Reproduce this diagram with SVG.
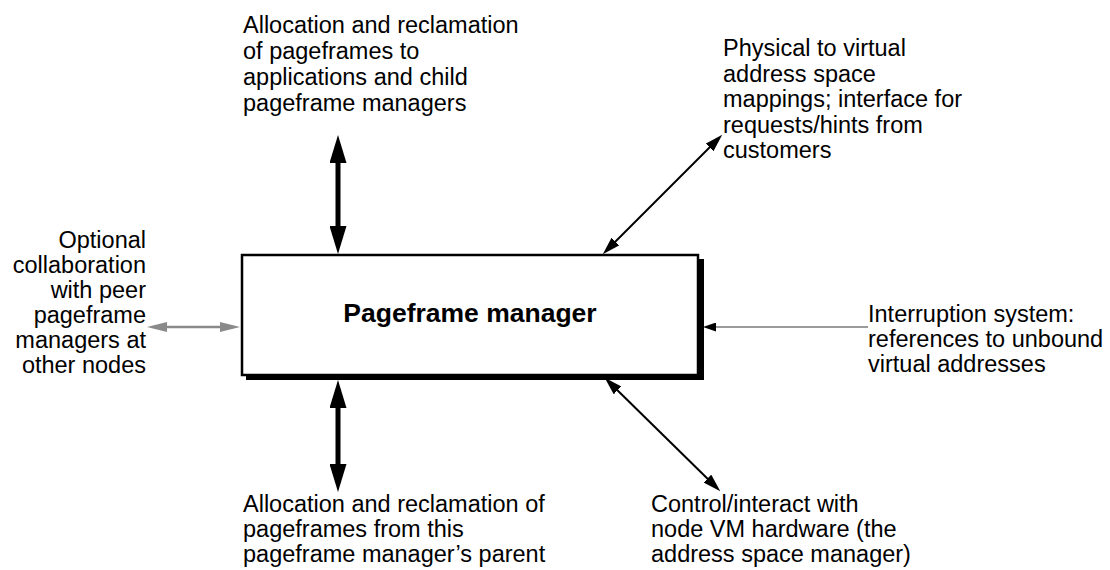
<svg xmlns="http://www.w3.org/2000/svg" width="1110" height="570" viewBox="0 0 1110 570">
  <style>
    .lbl { font-family: "Liberation Sans", Arial, sans-serif; font-size: 23.5px; fill: #000; }
    .title { font-family: "Liberation Sans", Arial, sans-serif; font-size: 26.5px; font-weight: bold; fill: #000; }
    .thick { stroke: #000; stroke-width: 5; fill: none; }
    .thin { stroke: #000; stroke-width: 2; fill: none; }
    .grey { stroke: #8a8a8a; stroke-width: 2.5; fill: none; }
    .greyline { stroke: #7a7a7a; stroke-width: 1.6; fill: none; }
  </style>
  <defs>
    <marker id="headThick" markerUnits="userSpaceOnUse" markerWidth="28" markerHeight="17" refX="18" refY="8.5" orient="auto-start-reverse">
      <path d="M0,0 L28,8.5 L0,17 z" fill="#000"/>
    </marker>
    <marker id="headThin" markerUnits="userSpaceOnUse" markerWidth="18" markerHeight="11" refX="12" refY="5.5" orient="auto-start-reverse">
      <path d="M0,0 L18,5.5 L0,11 z" fill="#000"/>
    </marker>
    <marker id="headGrey" markerUnits="userSpaceOnUse" markerWidth="20" markerHeight="10" refX="14" refY="5" orient="auto-start-reverse">
      <path d="M0,0 L20,5 L0,10 z" fill="#8a8a8a"/>
    </marker>
    <marker id="headSmall" markerUnits="userSpaceOnUse" markerWidth="13" markerHeight="9" refX="7" refY="4.5" orient="auto">
      <path d="M0,0 L13,4.5 L0,9 z" fill="#000"/>
    </marker>
  </defs>

  <!-- central component with drop shadow -->
  <g id="pageframe-manager">
    <rect x="246" y="259" width="458" height="121" fill="#000"/>
    <rect x="242" y="255" width="456" height="120" fill="#fff" stroke="#000" stroke-width="2.5"/>
    <text class="title" x="470" y="322" text-anchor="middle">Pageframe manager</text>
  </g>

  <!-- connectors -->
  <g id="connectors">
    <line class="thick" x1="338" y1="145" x2="338" y2="244" marker-start="url(#headThick)" marker-end="url(#headThick)"/>
    <line class="thick" x1="338" y1="390" x2="338" y2="482" marker-start="url(#headThick)" marker-end="url(#headThick)"/>
    <line class="thin" x1="607" y1="250" x2="718" y2="139" marker-start="url(#headThin)" marker-end="url(#headThin)"/>
    <line class="thin" x1="609" y1="382" x2="716" y2="487" marker-start="url(#headThin)" marker-end="url(#headThin)"/>
    <line class="grey" x1="153" y1="327" x2="234" y2="327" marker-start="url(#headGrey)" marker-end="url(#headGrey)"/>
    <line class="greyline" x1="868" y1="327" x2="709" y2="327" marker-end="url(#headSmall)"/>
  </g>

  <g id="label-children">
    <text class="lbl" x="243" y="33">Allocation and reclamation</text>
    <text class="lbl" x="243" y="59">of pageframes to</text>
    <text class="lbl" x="243" y="85">applications and child</text>
    <text class="lbl" x="243" y="111">pageframe managers</text>
  </g>

  <g id="label-customers">
    <text class="lbl" x="723" y="56">Physical to virtual</text>
    <text class="lbl" x="723" y="81.5">address space</text>
    <text class="lbl" x="723" y="107">mappings; interface for</text>
    <text class="lbl" x="723" y="132.5">requests/hints from</text>
    <text class="lbl" x="723" y="158">customers</text>
  </g>

  <g id="label-peers">
    <text class="lbl" x="146" y="248" text-anchor="end">Optional</text>
    <text class="lbl" x="146" y="273" text-anchor="end">collaboration</text>
    <text class="lbl" x="146" y="298" text-anchor="end">with peer</text>
    <text class="lbl" x="146" y="323" text-anchor="end">pageframe</text>
    <text class="lbl" x="146" y="348" text-anchor="end">managers at</text>
    <text class="lbl" x="146" y="373" text-anchor="end">other nodes</text>
  </g>

  <g id="label-interrupts">
    <text class="lbl" x="868" y="322">Interruption system:</text>
    <text class="lbl" x="868" y="347">references to unbound</text>
    <text class="lbl" x="868" y="372">virtual addresses</text>
  </g>

  <g id="label-parent">
    <text class="lbl" x="243" y="512">Allocation and reclamation of</text>
    <text class="lbl" x="243" y="537">pageframes from this</text>
    <text class="lbl" x="243" y="562">pageframe manager’s parent</text>
  </g>

  <g id="label-hardware">
    <text class="lbl" x="651" y="512">Control/interact with</text>
    <text class="lbl" x="651" y="537">node VM hardware (the</text>
    <text class="lbl" x="651" y="562">address space manager)</text>
  </g>
</svg>
